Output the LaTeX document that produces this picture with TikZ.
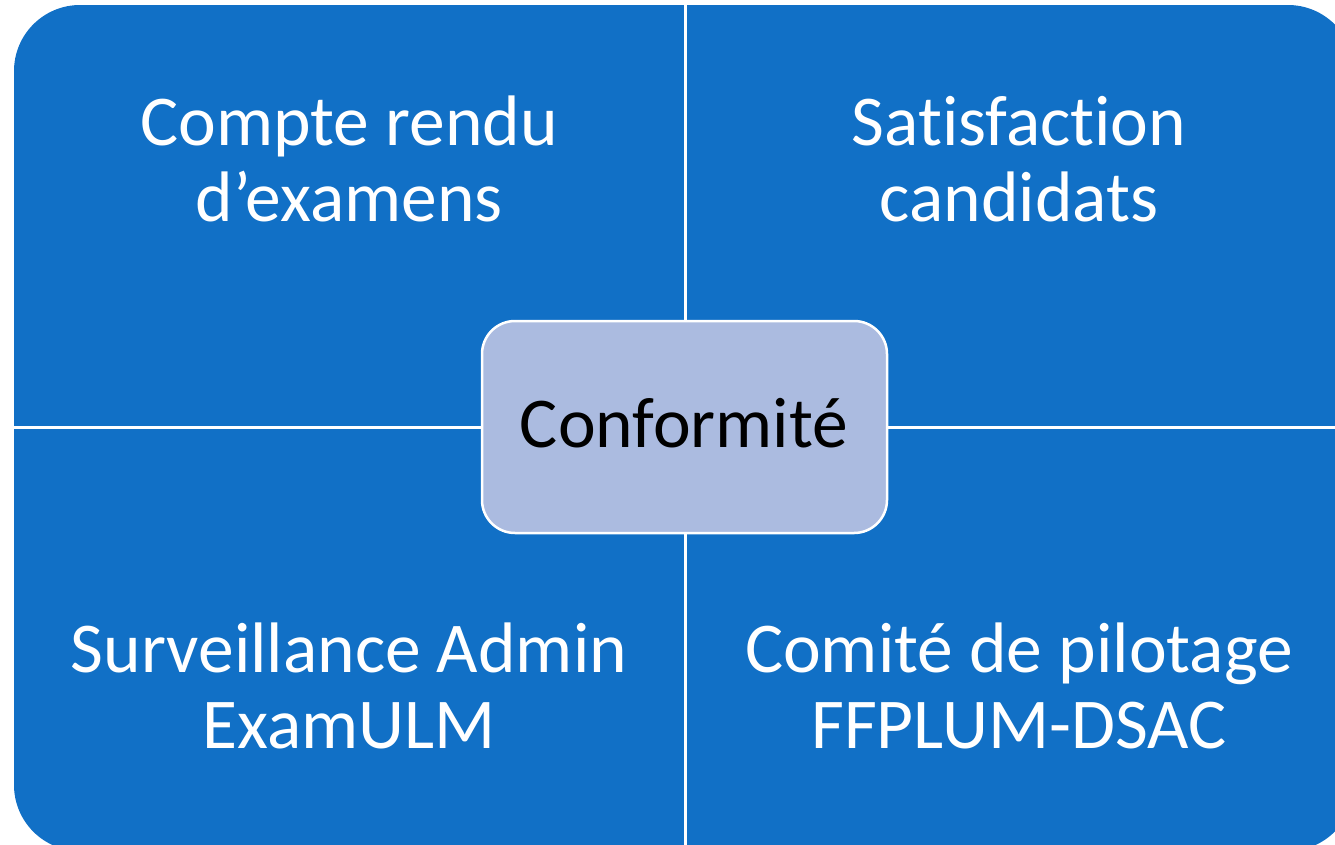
\documentclass[tikz,border=0pt]{standalone}
\usepackage{fontspec}
\setmainfont{Carlito}[Ligatures=CommonOff]
\definecolor{quadblue}{RGB}{17,112,198}
\definecolor{centerfill}{RGB}{171,187,224}
\tikzset{
  qtext/.style={text=white, align=center, inner sep=0pt, anchor=base,
    font=\fontsize{71.5}{76}\selectfont},
  centerbox/.style={draw=white, line width=2.5pt, fill=centerfill, rounded corners=33pt,
    minimum width=405pt, minimum height=212pt, inner sep=0pt},
  centertext/.style={inner sep=0pt, anchor=base, text=black,
    font=\fontsize{71.5}{76}\selectfont}
}
\begin{document}
\begin{tikzpicture}[x=1pt,y=-1pt]
\useasboundingbox (0,0) rectangle (1335,844);
\begin{scope}
\clip (0,0) rectangle (1335,844);
\fill[quadblue, rounded corners=66pt] (14,5) rectangle (1354,851);
\draw[white, line width=3pt] (685,0) -- (685,851);
\draw[white, line width=3pt] (14,427) -- (1354,427);
\end{scope}
\node[qtext] (tl) at (349,221) {Compte rendu\\d’examens};
\node[qtext] (tr) at (1019,221) {Satisfaction\\candidats};
\node[qtext] (bl) at (349,748) {Surveillance Admin\\ExamULM};
\node[qtext] (br) at (1019,748) {Comité de pilotage\\FFPLUM-DSAC};
\node[centerbox] (c) at (684.5,427) {};
\node[centertext] (ct) at (684,447) {Conformité};
\end{tikzpicture}
\end{document}
